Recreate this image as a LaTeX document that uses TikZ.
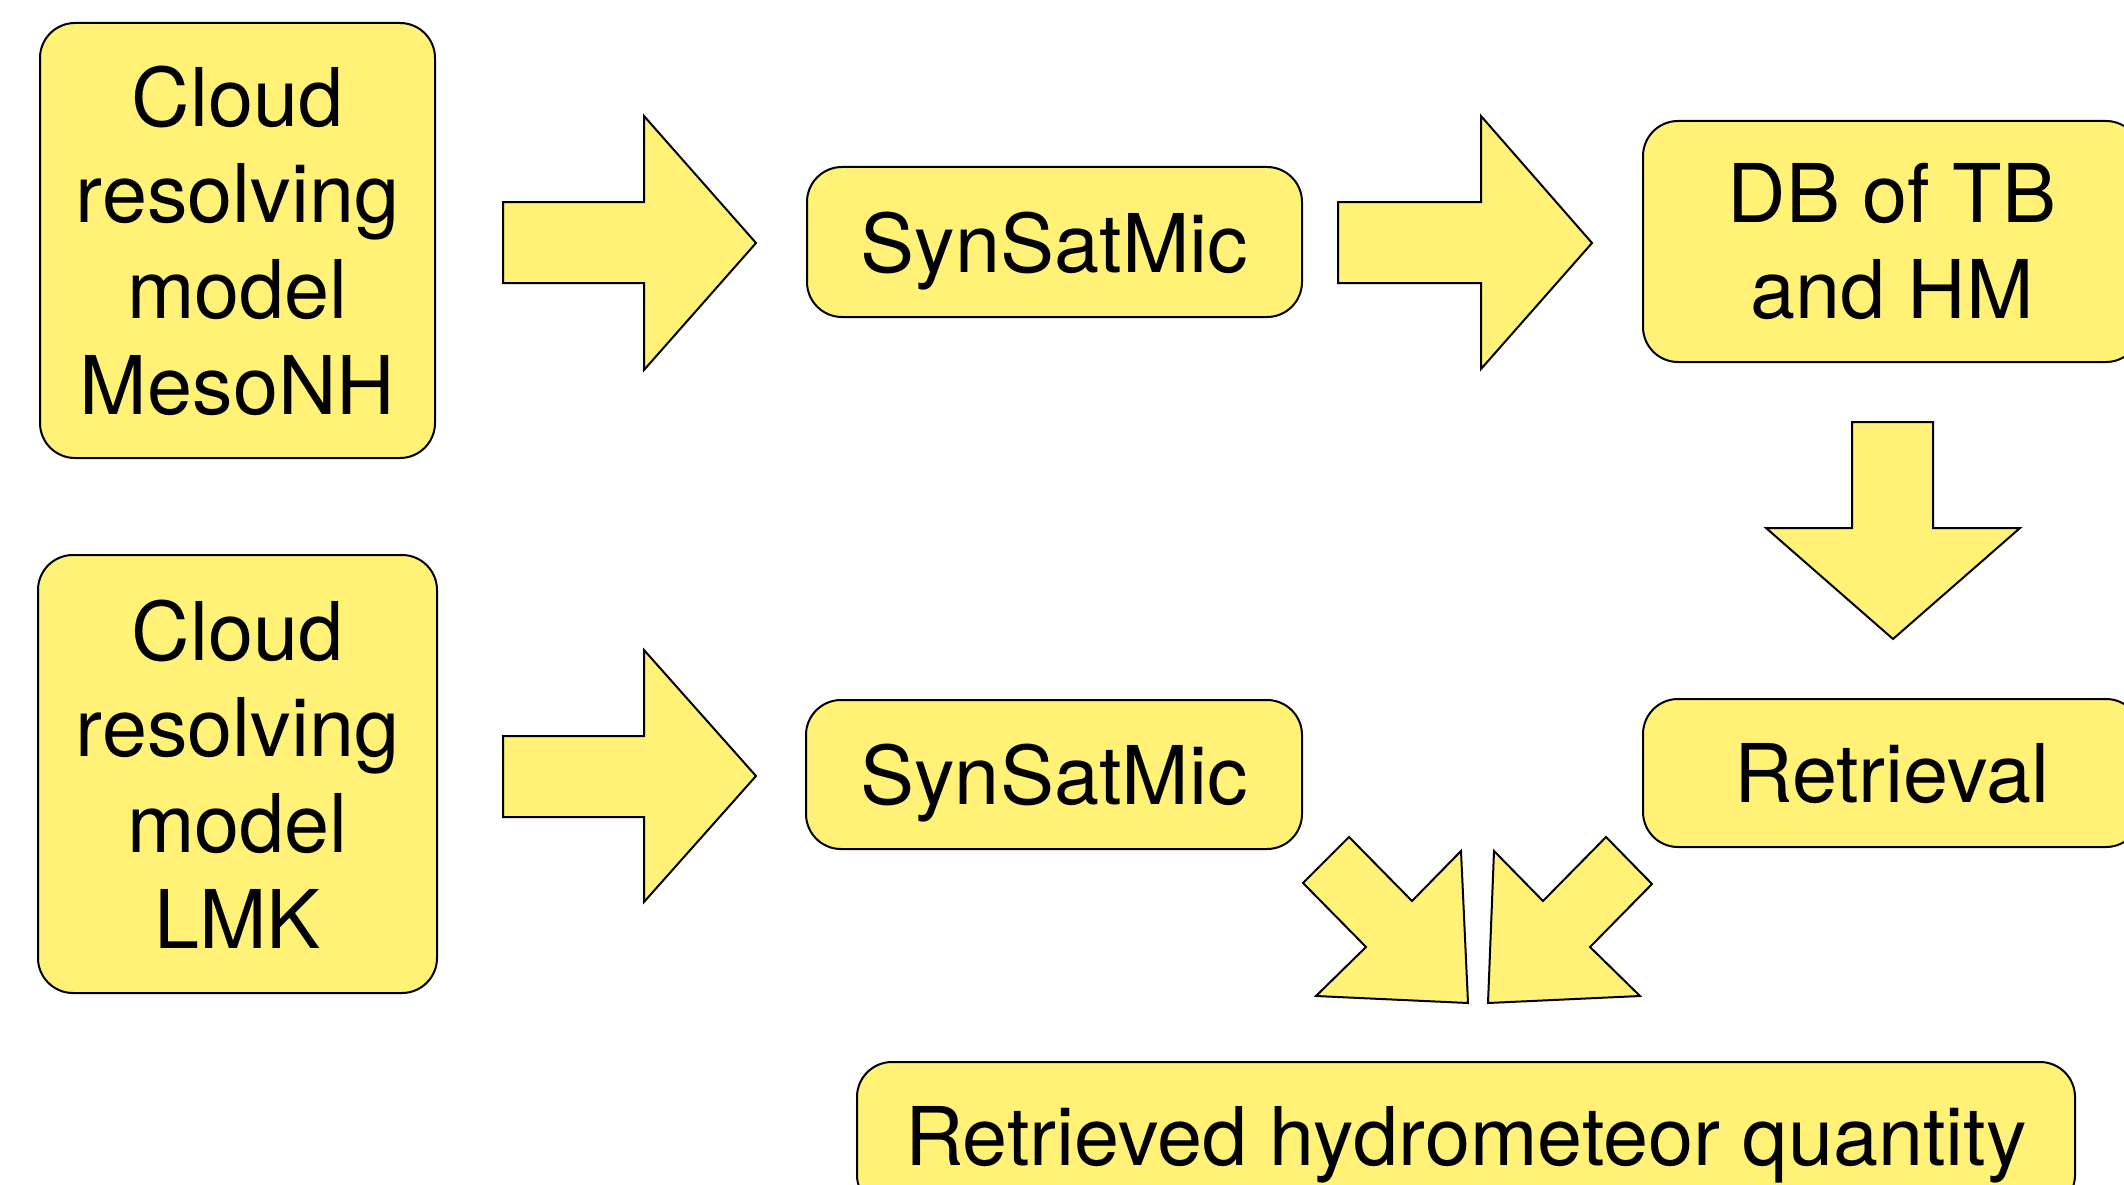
\documentclass[tikz,border=0pt]{standalone}
\usepackage{fontspec}
\setmainfont{TeX Gyre Heros}
\definecolor{boxyellow}{RGB}{255,242,118}
\begin{document}
\begin{tikzpicture}[x=1pt,y=-1pt,
  box/.style={draw=black, line width=2pt, fill=boxyellow, rounded corners=35pt,
    inner sep=0pt, align=center, font=\fontsize{81}{96}\selectfont},
  oneline/.style={text depth=0pt},
  blockarrow/.style={draw=black, line width=2pt, fill=boxyellow, line join=miter}]
\useasboundingbox (0,0) rectangle (2124,1185);
% boxes
\node[box, minimum width=395pt, minimum height=435pt] (meso) at (237.5,240.5) {Cloud\\resolving\\model\\MesoNH};
\node[box, minimum width=399pt, minimum height=438pt] (lmk) at (237.5,774) {Cloud\\resolving\\model\\LMK};
\node[box, oneline, minimum width=495pt, minimum height=150pt] (syn1) at (1054.5,242) {SynSatMic};
\node[box, oneline, minimum width=496pt, minimum height=149pt] (syn2) at (1054,774.5) {SynSatMic};
\node[box, minimum width=498pt, minimum height=241pt] (db) at (1892,241.5) {DB of TB\\and HM};
\node[box, oneline, minimum width=498pt, minimum height=148pt] (ret) at (1892,773) {Retrieval};
\node[box, oneline, minimum width=1218pt, minimum height=148pt] (hyd) at (1466,1136) {Retrieved hydrometeor quantity};
% block arrows
\draw[blockarrow] (503,202) -- (644,202) -- (644,116) -- (756,243) -- (644,370) -- (644,283) -- (503,283) -- cycle;
\draw[blockarrow] (1338,202) -- (1481,202) -- (1481,116) -- (1592,243) -- (1481,369) -- (1481,283) -- (1338,283) -- cycle;
\draw[blockarrow] (503,736) -- (644,736) -- (644,650) -- (756,776) -- (644,902) -- (644,817) -- (503,817) -- cycle;
\draw[blockarrow] (1852,422) -- (1933,422) -- (1933,528) -- (2020,528) -- (1893,639) -- (1766,528) -- (1852,528) -- cycle;
\draw[blockarrow] (1303,883) -- (1349,837) -- (1412,901) -- (1461,851) -- (1468,1003) -- (1316,996) -- (1366,947) -- cycle;
\draw[blockarrow] (1652,884) -- (1606,837) -- (1543,901) -- (1494,851) -- (1488,1003) -- (1640,996) -- (1590,947) -- cycle;
\end{tikzpicture}
\end{document}
